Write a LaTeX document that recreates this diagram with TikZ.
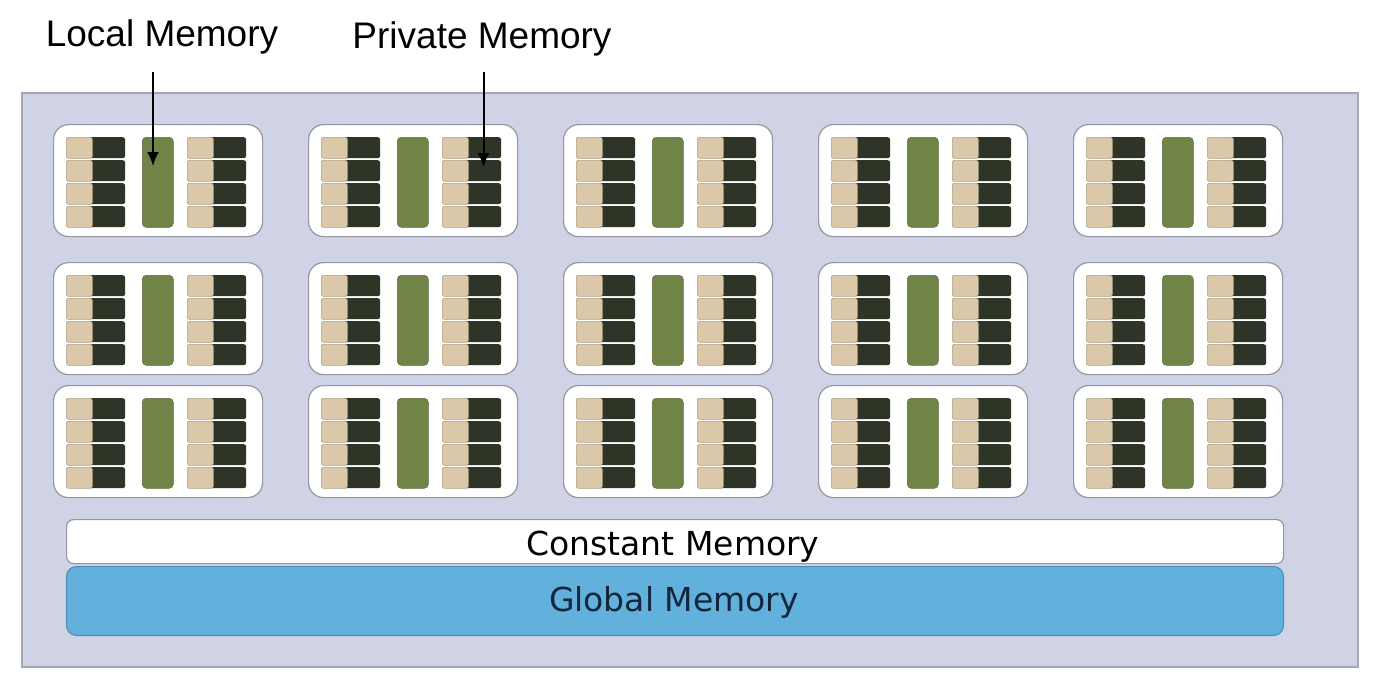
\documentclass[tikz,border=0pt]{standalone}
\usepackage{fontspec}
\setmainfont{Liberation Sans}
\newfontfamily\boxfont{DejaVu Sans}
\usetikzlibrary{arrows.meta}
\definecolor{bgl}{RGB}{208,210,230}
\definecolor{frameline}{RGB}{165,167,185}
\definecolor{blockline}{RGB}{150,150,160}
\definecolor{beige}{RGB}{218,200,168}
\definecolor{darkcell}{RGB}{46,52,38}
\definecolor{greenbar}{RGB}{111,132,70}
\definecolor{globalblue}{RGB}{98,176,220}
\definecolor{globaltext}{RGB}{20,38,60}
\tikzset{
  blockbox/.style={draw=blockline, line width=1.2pt, fill=white, rounded corners=15pt,
    minimum width=209pt, minimum height=112pt, anchor=north west, inner sep=0pt},
  beigecell/.style={fill=beige, draw=beige!80!black, line width=0.6pt, rounded corners=2pt,
    minimum width=26pt, minimum height=21pt, anchor=north west, inner sep=0pt},
  darkcellbox/.style={fill=darkcell, rounded corners=2.5pt,
    minimum width=37pt, minimum height=21pt, anchor=north west, inner sep=0pt},
  greenbox/.style={fill=greenbar, draw=greenbar!80!black, line width=0.5pt, rounded corners=4pt,
    minimum width=31pt, minimum height=90pt, anchor=north west, inner sep=0pt},
  bigtext/.style={font=\fontsize{37}{44}\selectfont, inner sep=0pt},
  boxtext/.style={font=\boxfont\fontsize{33}{40}\selectfont, inner sep=0pt, anchor=base},
  callout/.style={line width=2pt, -{Latex[length=14pt,width=12pt]}},
}
\begin{document}
\begin{tikzpicture}[x=1pt,y=-1pt]
\fill[white] (0,0) rectangle (1382,686);
\useasboundingbox (0,0) rectangle (1382,686);
% outer frame
\draw[draw=frameline, line width=1.5pt, fill=bgl] (22,93) rectangle (1358,667);
% blocks
\foreach \cx [count=\i] in {53,308,563,818,1073} {
  \foreach \ry [count=\j] in {124,262,385} {
    \node[blockbox] (blk-\i-\j) at (\cx,\ry) {};
    \foreach \sx [count=\k] in {13,134} {
      \foreach \n in {0,1,2,3} {
        \node[darkcellbox] (dk-\i-\j-\k-\n) at (\cx+\sx+22,\ry+13+\n*23) {};
        \node[beigecell] (bg-\i-\j-\k-\n) at (\cx+\sx,\ry+13+\n*23) {};
      }
    }
    \node[greenbox] (gr-\i-\j) at (\cx+89,\ry+13) {};
  }
}
% constant and global memory
\node[draw=blockline, line width=1.2pt, fill=white, rounded corners=7pt,
  minimum width=1217pt, minimum height=44pt, anchor=north west, inner sep=0pt]
  (const) at (66,519) {};
\node[boxtext] (consttext) at (673,555) {Constant Memory};
\node[draw=globalblue!80!black, line width=1pt, fill=globalblue, rounded corners=10pt,
  minimum width=1217pt, minimum height=69pt, anchor=north west, inner sep=0pt]
  (global) at (66,566) {};
\node[boxtext, text=globaltext] (globaltext) at (674,611) {Global Memory};
% labels
\node[bigtext, anchor=base] (lloc) at (162,46) {Local Memory};
\node[bigtext, anchor=base] (lpriv) at (482,48) {Private Memory};
\coordinate (lstart) at (153,72);
\coordinate (pstart) at (483.5,72);
\coordinate (lend) at (153,166);
\coordinate (pend) at (483.5,167);
\draw[callout] (lstart) -- (lend);
\draw[callout] (pstart) -- (pend);
\end{tikzpicture}
\end{document}
